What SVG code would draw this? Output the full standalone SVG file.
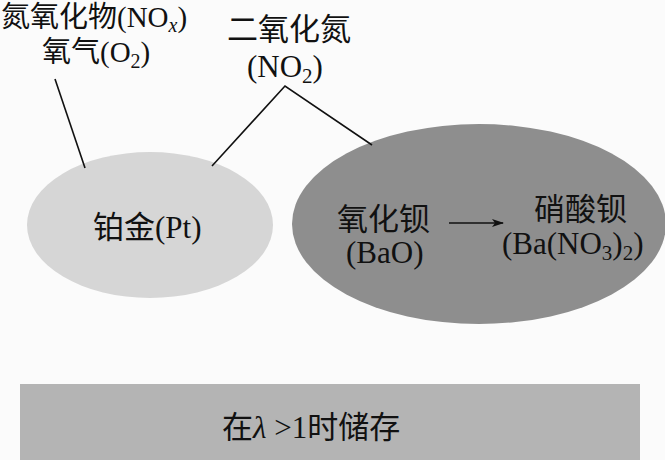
<svg xmlns="http://www.w3.org/2000/svg" width="665" height="460" viewBox="0 0 665 460">
<defs>
<marker id="ah" markerWidth="12" markerHeight="8" refX="11" refY="4" orient="auto" markerUnits="userSpaceOnUse">
<path d="M0,0 L12,4 L0,8 L3,4 Z" fill="#111"/>
</marker>
</defs>
<rect width="665" height="460" fill="#fbfbfb"/>
<g id="labels" fill="#111">
<text x="1" y="27" font-size="29" font-family="Liberation Serif, Noto Sans CJK SC, serif">氮氧化物(NO<tspan font-style="italic" font-size="20" dy="5">x</tspan><tspan dy="-5">)</tspan></text>
<text x="42" y="62" font-size="29" font-family="Liberation Serif, Noto Sans CJK SC, serif">氧气(O<tspan font-size="20" dy="6">2</tspan><tspan dy="-6">)</tspan></text>
<text x="227" y="40" font-size="31" font-family="Liberation Serif, Noto Sans CJK SC, serif">二氧化氮</text>
<text x="247" y="77" font-size="31" font-family="Liberation Serif, Noto Sans CJK SC, serif">(NO<tspan font-size="21" dy="6">2</tspan><tspan dy="-6">)</tspan></text>
</g>
<g id="pt" fill="#111">
<ellipse cx="150" cy="225" rx="123" ry="73" fill="#d6d6d6"/>
<text x="93" y="238" font-size="31" font-family="Liberation Serif, Noto Sans CJK SC, serif">铂金(Pt)</text>
</g>
<g id="bao" fill="#111">
<ellipse cx="479" cy="224" rx="187" ry="100" fill="#8e8e8e"/>
<text x="337" y="230" font-size="31" font-family="Liberation Serif, Noto Sans CJK SC, serif">氧化钡</text>
<text x="346" y="263" font-size="31" font-family="Liberation Serif, Noto Sans CJK SC, serif">(BaO)</text>
<text x="534" y="220" font-size="31" font-family="Liberation Serif, Noto Sans CJK SC, serif">硝酸钡</text>
<text x="502" y="254" font-size="31" font-family="Liberation Serif, Noto Sans CJK SC, serif">(Ba(NO<tspan font-size="21" dy="6">3</tspan><tspan dy="-6">)</tspan><tspan font-size="21" dy="6">2</tspan><tspan dy="-6">)</tspan></text>
</g>
<g id="storage" fill="#111">
<rect x="20" y="384" width="620" height="76" fill="#b4b4b4"/>
<text x="222" y="438" font-size="31" font-family="Liberation Serif, Noto Sans CJK SC, serif">在<tspan font-style="italic">λ</tspan> &gt;1时储存</text>
</g>
<g id="connectors" stroke="#111" stroke-width="1.6" fill="none">
<line x1="55" y1="79" x2="85" y2="168"/>
<polyline points="212,166 285,86 372,145"/>
<line x1="449" y1="223" x2="503" y2="223" marker-end="url(#ah)"/>
</g>
</svg>
